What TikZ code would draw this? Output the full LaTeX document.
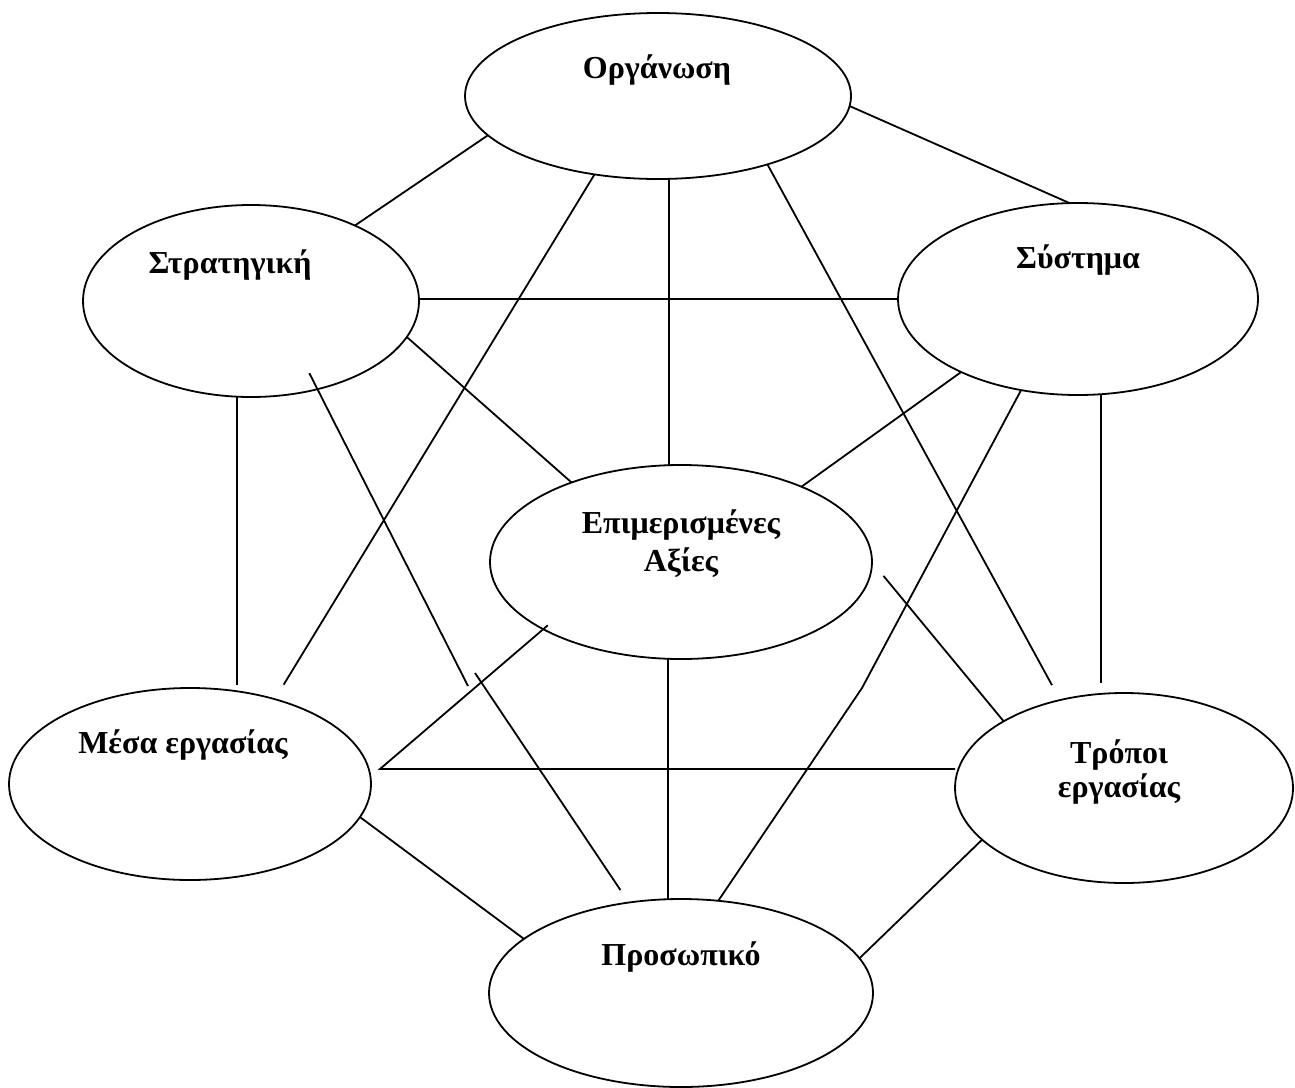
\documentclass[tikz,border=0pt]{standalone}
\usepackage{fontspec}
\setmainfont{Liberation Serif}
\usetikzlibrary{shapes.geometric,calc}
\begin{document}
\begin{tikzpicture}[x=1pt,y=-1pt,
  bubble/.style={draw, ellipse, line width=1.8pt, inner sep=0pt, outer sep=0pt},
  caption/.style={font=\fontsize{32}{38}\selectfont\bfseries, inner sep=0pt, anchor=base, align=center},
  link/.style={line width=1.8pt}]
\useasboundingbox (0,0) rectangle (1295,1087);

% ellipses
\node[bubble, minimum width=386pt, minimum height=166pt] (org) at (658,96) {};
\node[bubble, minimum width=336pt, minimum height=192pt] (str) at (251,301) {};
\node[bubble, minimum width=360pt, minimum height=192pt] (sys) at (1078,299) {};
\node[bubble, minimum width=382pt, minimum height=194pt] (val) at (681,562) {};
\node[bubble, minimum width=362pt, minimum height=192pt] (mes) at (190,784) {};
\node[bubble, minimum width=338pt, minimum height=190pt] (tro) at (1124,788) {};
\node[bubble, minimum width=384pt, minimum height=188pt] (pro) at (681,993) {};

% captions (base anchor = baseline of the last line)
\node[caption] (orgT) at (657,78) {Οργάνωση};
\node[caption] (strT) at (230,273) {Στρατηγική};
\node[caption] (sysT) at (1078,268) {Σύστημα};
\node[caption] (valT) at (681,571) {Επιμερισμένες\\Αξίες};
\node[caption] (mesT) at (183,753) {Μέσα εργασίας};
\node[caption, font=\fontsize{32}{34}\selectfont\bfseries] (troT) at (1119,797) {Τρόποι\\εργασίας};
\node[caption] (proT) at (681,965) {Προσωπικό};

% free bend points
\coordinate (k1) at (468,686);
\coordinate (k2) at (475,673);
\coordinate (k3) at (862,688);
\coordinate (k4) at (380,769);

% connectors
\draw[link] (org.193) -- (str.36);
\draw[link] (org.-3) -- (sys.95);
\draw[link] (sys.west) -- (sys.west -| str.east);
\draw[link] (str.-13) -- (val.144);
\draw[link] (sys.212) -- (val.32);
\draw[link] ([xshift=-12pt]val.north) -- ([xshift=-12pt]val.north |- org.south);
\draw[link, shorten >=17pt] (org.231) -- (mes.45);
\draw[link, shorten >=17pt] (org.-32) -- (tro.126);
\draw[link, shorten >=3pt] ([xshift=-14pt]str.south) -- ([xshift=-14pt]str.south |- mes.north);
\draw[link, shorten <=-18pt] (str.-53) -- (k1);
\draw[link, shorten >=15pt] (k2) -- (pro.120);
\draw[link, shorten >=10pt] ([xshift=23pt]sys.south) -- ([xshift=23pt]sys.south |- tro.north);
\draw[link] (sys.238) -- (k3) -- (pro.68);
\draw[link, shorten <=18pt] (val.0) -- (tro.151);
\draw[link, shorten <=-6pt] (val.206) -- (k4) -- (k4 -| tro.west);
\draw[link] ([xshift=-13pt]val.south) -- ([xshift=-13pt]val.south |- pro.north);
\draw[link] (mes.-11) -- (pro.161);
\draw[link] (tro.200) -- (pro.11);
\end{tikzpicture}
\end{document}
